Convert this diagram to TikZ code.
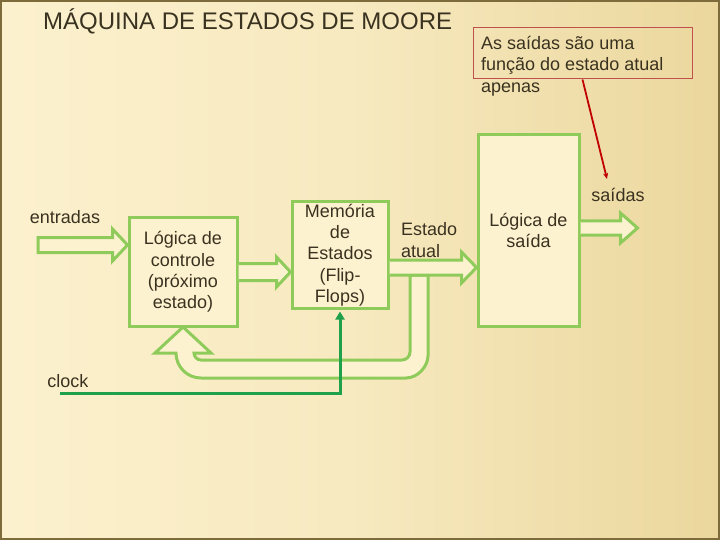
\documentclass[tikz,border=0pt]{standalone}
\usepackage{fontspec}
\setmainfont{Liberation Sans}
\usetikzlibrary{calc,arrows.meta}
\definecolor{bgA}{HTML}{FCF1CE}
\definecolor{bgB}{HTML}{EBD79D}
\definecolor{frameol}{HTML}{7D6B3C}
\definecolor{boxgreen}{HTML}{8FCB5B}
\definecolor{boxfill}{HTML}{FDF2CF}
\definecolor{txt}{HTML}{3A3220}
\definecolor{clockgreen}{HTML}{1FA04A}
\definecolor{notered}{HTML}{C0504D}
\definecolor{pointred}{HTML}{C00000}
\begin{document}
\begin{tikzpicture}[x=1pt,y=-1pt,
  box/.style={draw=boxgreen, line width=3pt, fill=boxfill, inner sep=0pt},
  barrow/.style={draw=boxgreen, line width=3pt, fill=boxfill, line join=miter},
  lbl/.style={text=txt, font=\fontsize{18}{21.3}\selectfont, inner sep=0pt},
  clockline/.style={draw=clockgreen, line width=3pt, -{Triangle[length=8pt,width=9pt]}},
  pointer/.style={draw=pointred, line width=1.8pt, -{Stealth[length=6pt,width=5pt]}}]
\useasboundingbox (0,0) rectangle (720,540);
% background
\shade[left color=bgA, right color=bgB, middle color=bgA!70!bgB] (0,0) rectangle (720,540);
\draw[frameol, line width=2pt] (1,1) rectangle (719,539);

% title
\node[anchor=base west, inner sep=0pt, text=txt, font=\fontsize{24}{28}\selectfont] (title) at (43,30) {MÁQUINA DE ESTADOS DE MOORE};

% feedback U-arrow (drawn first)
\draw[barrow] (410,275) -- (410,352) .. controls (410,356.4) and (406.4,360) .. (402,360)
  -- (201,360) .. controls (197.1,360) and (194,356.9) .. (194,353)
  -- (211,353) -- (183,327) -- (155,353) -- (176,353)
  .. controls (176,366.8) and (187.2,378) .. (201,378)
  -- (406,378) .. controls (418.1,378) and (428,365.9) .. (428,356)
  -- (428,275) -- cycle;

% boxes
\node[box, minimum width=108pt, minimum height=108pt] (ctrl) at (183,272) {};
\node[lbl, align=center] at (ctrl) {Lógica de\\controle\\(próximo\\estado)};
\node[box, minimum width=96pt, minimum height=106pt] (mem) at (340,255) {};
\node[lbl, align=center] at (mem) {Memória\\de\\Estados\\(Flip-\\Flops)};
\node[box, minimum width=101pt, minimum height=191pt] (outl) at (528.5,230.5) {};
\node[lbl, align=center] at (outl) {Lógica de\\saída};

% block arrows
\coordinate (inS) at (38,245);
\coordinate (inT) at (ctrl.west |- inS);
\draw[barrow] ($(inS)+(0,-7.5)$) -- ($(inT)+(-15,-7.5)$) -- ($(inT)+(-15,-16)$) -- (inT)
  -- ($(inT)+(-15,16)$) -- ($(inT)+(-15,7.5)$) -- ($(inS)+(0,7.5)$) -- cycle;

\coordinate (cmS) at (ctrl.east);
\coordinate (cmT) at (mem.west |- ctrl.east);
\draw[barrow] ($(cmS)+(0,-8.5)$) -- ($(cmT)+(-14,-8.5)$) -- ($(cmT)+(-14,-15)$) -- (cmT)
  -- ($(cmT)+(-14,15)$) -- ($(cmT)+(-14,8.5)$) -- ($(cmS)+(0,8.5)$);

\coordinate (moS) at ($(mem.east)+(0,12.5)$);
\coordinate (moT) at (outl.west |- moS);
\draw[barrow] ($(moS)+(0,-7.5)$) -- ($(moT)+(-15,-7.5)$) -- ($(moT)+(-15,-15.5)$) -- (moT)
  -- ($(moT)+(-15,15.5)$) -- ($(moT)+(-15,7.5)$) -- ($(moS)+(0,7.5)$);

\coordinate (ouS) at ($(outl.east)+(0,-2.5)$);
\coordinate (ouT) at ($(ouS)+(57,0)$);
\draw[barrow] ($(ouS)+(0,-7)$) -- ($(ouT)+(-17,-7)$) -- ($(ouT)+(-17,-15)$) -- (ouT)
  -- ($(ouT)+(-17,15)$) -- ($(ouT)+(-17,7)$) -- ($(ouS)+(0,7)$);

% labels
\node[lbl] (entr) at (65,217) {entradas};
\node[lbl] (clk) at (68,381) {clock};
\node[lbl, align=left, anchor=west] (estado) at (401,240) {Estado\\atual};
\node[lbl] (said) at (618,195) {saídas};

% clock line
\coordinate (clkS) at (60,393);
\draw[clockline] (clkS) -| ($(mem.south)+(0,2)$);

% callout
\node[draw=notered, line width=1pt, minimum width=219pt, minimum height=51pt, inner sep=0pt] (note) at (582.5,53.5) {};
\node[lbl, align=left, anchor=north west] (notetext) at (481,36) {As saídas são uma\\função do estado atual\\apenas};
\coordinate (ptip) at (607,179);
\draw[pointer] (note.south) -- (ptip);
\end{tikzpicture}
\end{document}
